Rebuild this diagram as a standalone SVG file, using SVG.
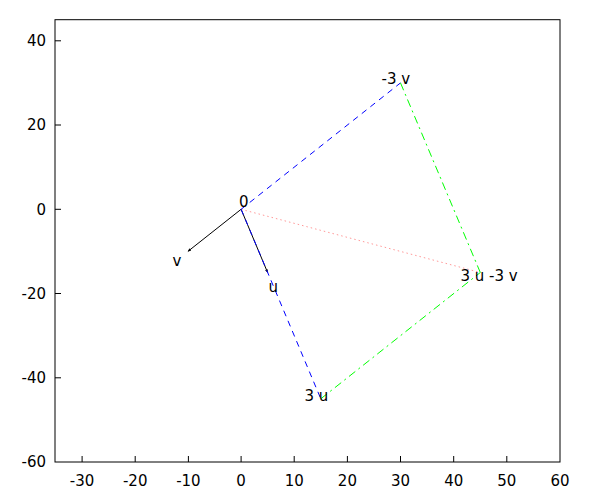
<svg xmlns="http://www.w3.org/2000/svg" width="600" height="500" viewBox="0 0 600 500">
<style>
text{font-family:"DejaVu Sans",sans-serif;font-size:15px;fill:#000}
.yl{text-anchor:end}
.xl{text-anchor:middle}
.tick{stroke:#000;stroke-width:1}
.blue{stroke:#0000ff;stroke-width:1;fill:none;stroke-dasharray:6,5}
.green{stroke:#00ff00;stroke-width:1;fill:none;stroke-dasharray:8,4,2,4}
.pink{stroke:#ff9999;stroke-width:1;fill:none;stroke-dasharray:1.5,3}
.vec{stroke:#000;stroke-width:1;fill:none}
</style>
<defs>
<marker id="ah" viewBox="0 0 10 10" refX="10" refY="5" markerWidth="4" markerHeight="3" orient="auto" markerUnits="userSpaceOnUse">
<path d="M0,0 L10,5 L0,10 z" fill="#000"/>
</marker>
</defs>
<rect width="600" height="500" fill="#fff"/>
<g id="axes">
<rect x="55" y="19.7" width="505" height="442.3" fill="none" stroke="#000" stroke-width="1"/>
<g class="tick">
<line x1="55" y1="40.8" x2="61" y2="40.8"/>
<line x1="55" y1="125" x2="61" y2="125"/>
<line x1="55" y1="209.3" x2="61" y2="209.3"/>
<line x1="55" y1="293.5" x2="61" y2="293.5"/>
<line x1="55" y1="377.8" x2="61" y2="377.8"/>
<line x1="82.1" y1="462" x2="82.1" y2="456"/>
<line x1="135.2" y1="462" x2="135.2" y2="456"/>
<line x1="188.4" y1="462" x2="188.4" y2="456"/>
<line x1="241.1" y1="462" x2="241.1" y2="456"/>
<line x1="294.2" y1="462" x2="294.2" y2="456"/>
<line x1="347.4" y1="462" x2="347.4" y2="456"/>
<line x1="400.5" y1="462" x2="400.5" y2="456"/>
<line x1="453.7" y1="462" x2="453.7" y2="456"/>
<line x1="506.8" y1="462" x2="506.8" y2="456"/>
</g>
<text class="yl" x="46" y="46">40</text>
<text class="yl" x="46" y="130">20</text>
<text class="yl" x="46" y="214.5">0</text>
<text class="yl" x="46" y="298.5">-20</text>
<text class="yl" x="46" y="383">-40</text>
<text class="yl" x="46" y="467">-60</text>
<text class="xl" x="82.1" y="486">-30</text>
<text class="xl" x="135.2" y="486">-20</text>
<text class="xl" x="188.4" y="486">-10</text>
<text class="xl" x="241.1" y="486">0</text>
<text class="xl" x="294.2" y="486">10</text>
<text class="xl" x="347.4" y="486">20</text>
<text class="xl" x="400.5" y="486">30</text>
<text class="xl" x="453.7" y="486">40</text>
<text class="xl" x="506.8" y="486">50</text>
<text class="xl" x="560" y="486">60</text>
</g>
<g id="connectors">
<line class="pink" x1="241.1" y1="209.3" x2="480.3" y2="272.5"/>
<line class="vec" x1="241.1" y1="209.3" x2="187.9" y2="251.4" marker-end="url(#ah)"/>
<line class="vec" x1="241.1" y1="209.3" x2="267.6" y2="272.5" marker-end="url(#ah)"/>
<line class="blue" x1="241.1" y1="209.3" x2="400.5" y2="82.9"/>
<line class="blue" x1="241.1" y1="209.3" x2="320.8" y2="398.8"/>
<line class="green" x1="400.5" y1="82.9" x2="480.3" y2="272.5"/>
<line class="green" x1="320.8" y1="398.8" x2="480.3" y2="272.5"/>
</g>
<g id="n-origin"><text x="239" y="207">0</text></g>
<g id="n-v"><text x="172.5" y="266">v</text></g>
<g id="n-u"><text x="268.5" y="291.5">u</text></g>
<g id="n-3u"><text x="304.5" y="401">3 u</text></g>
<g id="n-m3v"><text x="381.5" y="84">-3 v</text></g>
<g id="n-3um3v"><text x="460.5" y="280.5">3 u -3 v</text></g>
</svg>
